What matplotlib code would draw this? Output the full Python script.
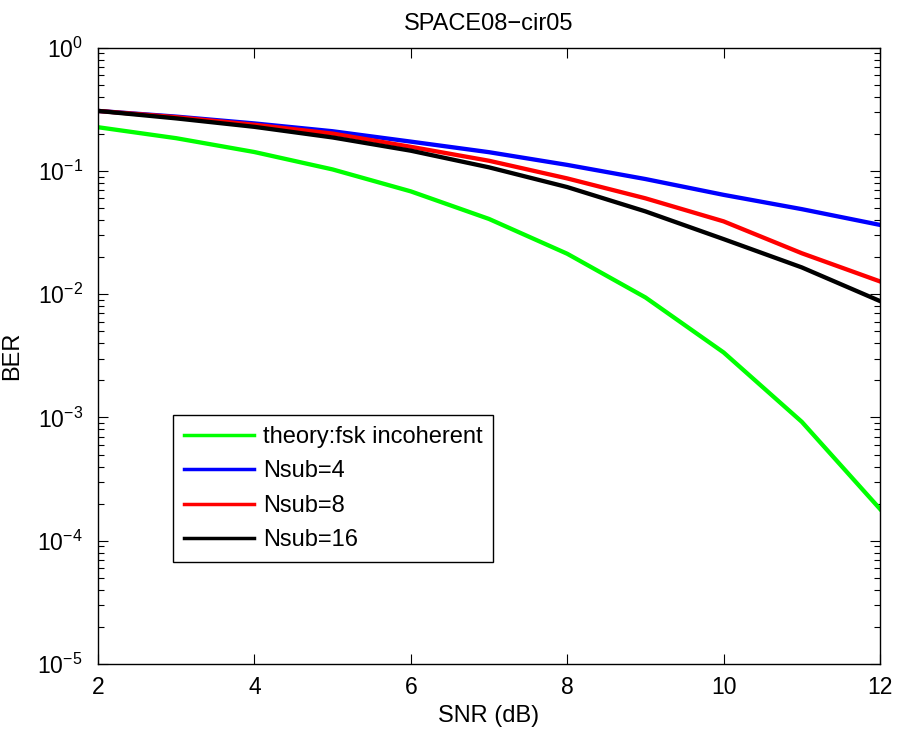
import numpy as np
import matplotlib
matplotlib.use('Agg')
import matplotlib.pyplot as plt
from matplotlib.ticker import LogLocator, NullFormatter

plt.rcParams['font.family'] = ['Liberation Sans', 'DejaVu Sans']
plt.rcParams['mathtext.fontset'] = 'custom'
plt.rcParams['mathtext.rm'] = 'Liberation Sans'
plt.rcParams['mathtext.it'] = 'Liberation Sans'

# =============================================================================
# Data
# =============================================================================
snr = [2, 3, 4, 5, 6, 7, 8, 9, 10, 11, 12]
ber_theory = [0.2264, 0.1844, 0.1424, 0.1029, 0.0683, 0.0408, 0.0213, 0.00942, 0.00337, 0.000922, 0.000181]
ber_nsub4 = [0.307, 0.276, 0.243, 0.210, 0.173, 0.142, 0.112, 0.086, 0.064, 0.049, 0.0365]
ber_nsub8 = [0.307, 0.273, 0.237, 0.201, 0.157, 0.121, 0.087, 0.060, 0.039, 0.0215, 0.0127]
ber_nsub16 = [0.307, 0.267, 0.228, 0.187, 0.146, 0.107, 0.074, 0.047, 0.028, 0.0165, 0.0088]

labels = ['theory:fsk incoherent', 'Nsub=4', 'Nsub=8', 'Nsub=16']

# =============================================================================
# Plot
# =============================================================================
fig = plt.figure(figsize=(8.98, 7.31), dpi=100)
ax = fig.add_axes([98/898, 1 - 664/731, (880-98)/898, (664-47.7)/731])

lw = 3.1
ax.semilogy(snr, ber_theory, color='#00ff00', lw=lw, label=labels[0])
ax.semilogy(snr, ber_nsub4, color='#0000ff', lw=lw, label=labels[1])
ax.semilogy(snr, ber_nsub8, color='#ff0000', lw=lw, label=labels[2])
ax.semilogy(snr, ber_nsub16, color='#000000', lw=lw, label=labels[3])

ax.set_xlim(2, 12)
ax.set_ylim(1e-5, 1e0)
ax.set_xticks([2, 4, 6, 8, 10, 12])
ax.yaxis.set_major_locator(LogLocator(base=10, numticks=10))
ax.yaxis.set_minor_locator(LogLocator(base=10, subs=np.arange(2, 10), numticks=20))
ax.yaxis.set_minor_formatter(NullFormatter())
ax.tick_params(which='both', direction='in', top=True, right=True, labelsize=16.5)
ax.tick_params(which='major', length=7, width=0.8)
ax.tick_params(which='minor', length=4, width=0.8)
ax.tick_params(axis='x', pad=9)
ax.tick_params(axis='y', pad=11)
for s in ax.spines.values():
    s.set_linewidth(1.0)

ax.set_title('SPACE08\u2212cir05', fontsize=17, pad=12.5)
ax.set_xlabel('SNR (dB)', fontsize=17, labelpad=4)
ax.set_ylabel('BER', fontsize=17, labelpad=10)

leg = ax.legend(loc='lower left', bbox_to_anchor=(0.0959, 0.1655), borderaxespad=0,
                fontsize=17, fancybox=False, edgecolor='black', framealpha=1,
                handlelength=3.0, handletextpad=0.35, labelspacing=0.53, borderpad=0.45)
leg.get_frame().set_linewidth(1.0)
for h in leg.get_lines():
    h.set_linewidth(2.5)

fig.savefig('out.png', dpi=100)
